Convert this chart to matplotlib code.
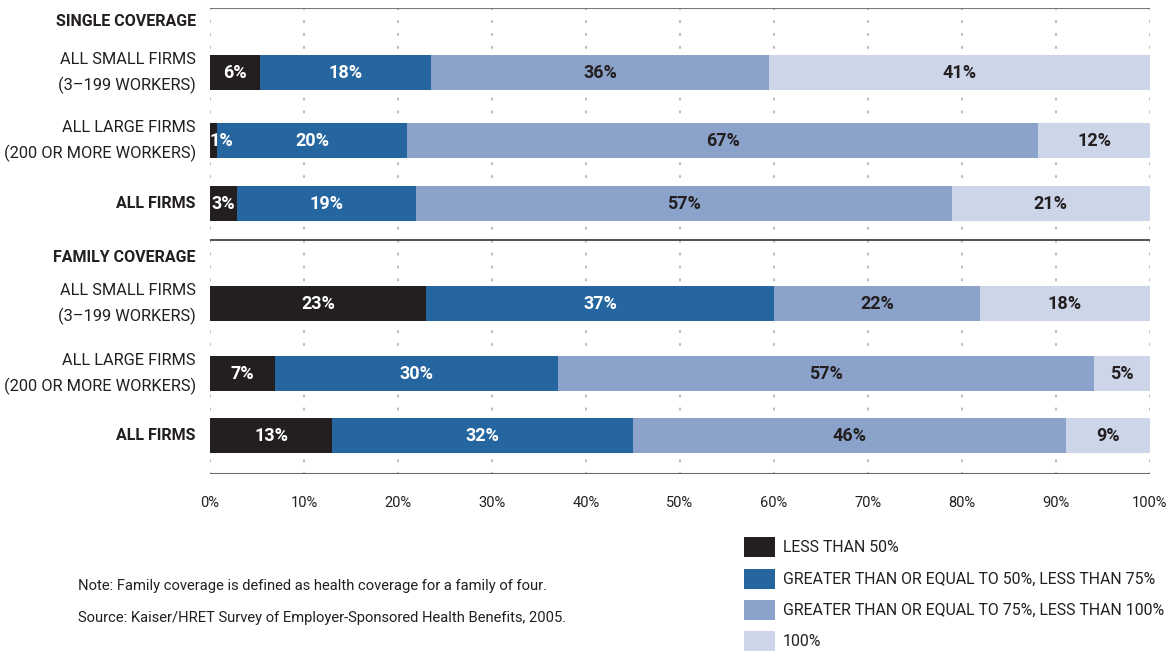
import matplotlib
matplotlib.use("Agg")
import matplotlib.pyplot as plt
from matplotlib.patches import Rectangle
import numpy as np

plt.rcParams["font.family"] = ["Roboto", "DejaVu Sans"]

# ---- data (share of workers, %) ----
groups = ["SINGLE COVERAGE", "FAMILY COVERAGE"]
row_labels = [
    "ALL SMALL FIRMS\n(3\u2013199 WORKERS)",
    "ALL LARGE FIRMS\n(200 OR MORE WORKERS)",
    "ALL FIRMS",
]
categories = [
    "LESS THAN 50%",
    "GREATER THAN OR EQUAL TO 50%, LESS THAN 75%",
    "GREATER THAN OR EQUAL TO 75%, LESS THAN 100%",
    "100%",
]
# bar widths as drawn (unrounded estimates)
single_vals = [
    [5.3, 18.2, 36.0, 40.5],
    [0.7, 20.3, 67.1, 11.9],
    [2.9, 19.0, 57.0, 21.1],
]
family_vals = [
    [23.0, 37.0, 21.9, 18.1],
    [6.9, 30.1, 57.0, 6.0],
    [13.0, 32.0, 46.1, 8.9],
]
# printed labels
single_text = [[6, 18, 36, 41], [1, 20, 67, 12], [3, 19, 57, 21]]
family_text = [[23, 37, 22, 18], [7, 30, 57, 5], [13, 32, 46, 9]]

colors = ["#231f20", "#2566a0", "#8ba3cb", "#cdd6e9"]
text_colors = ["white", "white", "#231f20", "#231f20"]
ink = "#231f20"

fig = plt.figure(figsize=(11.71, 6.52), dpi=100)
ax = fig.add_axes([210 / 1171, 1 - 474 / 652, 940 / 1171, 466 / 652])
ax.set_xlim(0, 100)
ax.set_ylim(474, 8)  # pixel-like vertical layout
for s in ax.spines.values():
    s.set_visible(False)
ax.set_yticks([])
ax.tick_params(axis="x", length=0, pad=16, labelsize=10.5, labelcolor=ink)
ax.set_xticks(np.arange(0, 101, 10))
ax.set_xticklabels([f"{v}%" for v in range(0, 101, 10)])

# dotted grid
for x in range(0, 101, 10):
    ax.plot([x, x], [8, 474], color="#bdbdbd", lw=1.5,
            linestyle=(0, (0.6, 5.6)), dash_capstyle="round", zorder=0)

ax.plot([0, 100], [8, 8], color="#7a7a7a", lw=1.5, zorder=1)
ax.plot([0, 100], [240, 240], color="#333333", lw=1.2, zorder=1)
ax.plot([0, 100], [474, 474], color="#6a6a6a", lw=1.5, zorder=1)

header_y = [22, 257]
row_y = [[72, 140, 203], [303, 373, 435]]
bar_h = 35

for g, (vals, texts) in enumerate([(single_vals, single_text),
                                   (family_vals, family_text)]):
    ax.text(-1.5, header_y[g], groups[g], ha="right", va="center",
            fontsize=11.5, fontweight="bold", color=ink)
    for r in range(3):
        y = row_y[g][r]
        left = 0
        for k in range(4):
            w = vals[r][k]
            ax.barh(y, w, left=left, height=bar_h, color=colors[k],
                    edgecolor="none", zorder=2)
            xc = max(left + w / 2, 1.2)
            ax.text(xc, y + 1, f"{texts[r][k]}%", ha="center", va="center",
                    fontsize=13, fontweight="bold",
                    color=text_colors[k], zorder=3)
            left += w
        bold = row_labels[r] == "ALL FIRMS"
        ax.text(-1.5, y + 1, row_labels[r], ha="right", va="center",
                fontsize=11.5 if bold else 11.8,
                fontweight="bold" if bold else "normal",
                color=ink, linespacing=1.75)

# legend
leg_y = [547, 579, 610, 641]
for k in range(4):
    fig.add_artist(Rectangle((744 / 1171, 1 - (leg_y[k] + 10) / 652),
                             31 / 1171, 20 / 652, transform=fig.transFigure,
                             facecolor=colors[k], edgecolor="none"))
    fig.text(783 / 1171, 1 - leg_y[k] / 652, categories[k], ha="left",
             va="center", fontsize=11.4, color=ink)

fig.text(78 / 1171, 1 - 586 / 652,
         "Note: Family coverage is defined as health coverage for a family of four.",
         ha="left", va="center", fontsize=10.6, color=ink)
fig.text(78 / 1171, 1 - 618 / 652,
         "Source: Kaiser/HRET Survey of Employer-Sponsored Health Benefits, 2005.",
         ha="left", va="center", fontsize=10.6, color=ink)

fig.savefig("out.png", dpi=100, facecolor="white")
